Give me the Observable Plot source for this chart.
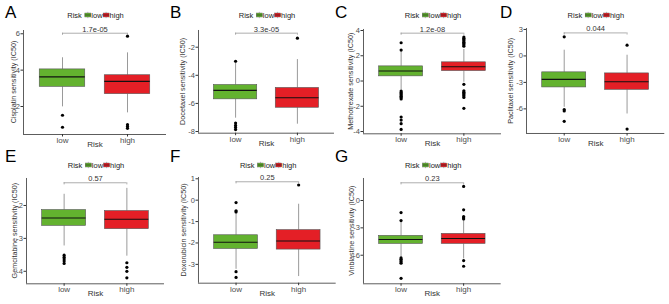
<!DOCTYPE html>
<html><head><meta charset="utf-8">
<script src="https://cdn.jsdelivr.net/npm/d3@7"></script>
<script src="https://cdn.jsdelivr.net/npm/@observablehq/plot@0.6"></script>
<style>
body{margin:0;background:#fff;}
#fig{position:relative;width:669px;height:304px;overflow:hidden;font-family:"Liberation Sans",Arial,sans-serif;background:#fff;}
#fig svg{position:absolute;overflow:visible;}
</style></head><body><div id="fig"></div>
<script>
const drugs = ["Cisplatin","Docetaxel","Methotrexate","Paclitaxel","Gemcitabine","Doxorubicin","Vinblastine"];
const panelLetters = ["A","B","C","D","E","F","G"];
const pValues = ["1.7e-05","3.3e-05","1.2e-08","0.044","0.57","0.25","0.23"];
const riskGroups = ["low","high"];
const groupColors = ["#63b22f","#e41f26"];
// [lower whisker, Q1, median, Q3, upper whisker]
const lowBox = [
  [1.98, 3.08, 3.63, 4.04, 4.68],
  [-7.05, -5.71, -5.07, -4.69, -3.1],
  [-0.72, 0.37, 0.79, 1.16, 2.3],
  [-5.82, -3.57, -2.66, -1.86, 0.65],
  [-3.23, -2.62, -2.38, -2.14, -1.66],
  [-3.23, -2.28, -1.97, -1.64, -0.58],
  [-6.22, -4.76, -4.28, -3.88, -2.38]
];
const highBox = [
  [1.65, 2.68, 3.38, 3.72, 4.95],
  [-7.48, -6.31, -5.6, -4.9, -2.88],
  [-0.1, 0.79, 1.13, 1.48, 2.5],
  [-6.58, -3.84, -2.93, -1.98, 0.08],
  [-3.54, -2.72, -2.42, -2.17, -1.48],
  [-3.57, -2.31, -1.91, -1.4, -0.19],
  [-6.4, -4.76, -4.17, -3.66, -2.1]
];
const lowOutliers = [
  [1.52, 0.86],
  [-3.0, -7.4, -7.57, -7.71, -7.86],
  [3.03, 2.45, -0.8, -0.9, -1.0, -1.1, -1.2, -1.3, -1.42, -2.85, -3.09, -3.38, -3.83],
  [2.17, -6.08, -6.24, -7.41],
  [-3.51, -3.57, -3.63, -3.69, -3.76],
  [-0.11, -0.5, -0.55, -3.34, -3.61],
  [-1.32, -2.2, -6.3, -6.45, -6.6, -6.75, -6.88, -8.53]
];
const highOutliers = [
  [5.87, 1.0, 0.9, 0.8],
  [-1.36],
  [3.48, 3.38, 3.28, 3.18, 3.08, 2.98, 2.88, 2.76, -0.26, -0.78, -0.88, -0.98, -1.08, -1.18, -1.3, -2.16],
  [1.22, -8.29],
  [-3.74, -3.88, -4.0, -4.2],
  [0.71],
  [1.54, -1.02, -1.76, -1.9, -2.02, -6.59, -7.21]
];
const yTicks = [[2,4,6],[-8,-6,-4,-2],[-4,-2,0,2,4],[-6,-3,0,3],[-4,-3,-2],[-3,-2,-1,0,1],[-6,-3,0]];
const bracketY = [6.03, -1.0, 3.79, 2.61, -1.31, 0.86, 1.94];

// layout (pixel frames of each panel and y domains)
const layout = [
  {x0:23,    x1:166, top:30,   bottom:134,   yDomain:[0.46, 6.18],  titleOffset:10},
  {x0:198,   x1:334, top:30,   bottom:132.7, yDomain:[-8.12, -0.81], titleOffset:16},
  {x0:363,   x1:501, top:29,   bottom:133.3, yDomain:[-4.18, 4.08], titleOffset:13},
  {x0:525.7, x1:664, top:28.3, bottom:133.3, yDomain:[-8.79, 3.11], titleOffset:15.5},
  {x0:26,    x1:164, top:178,  bottom:283.3, yDomain:[-4.38, -1.18], titleOffset:11.5},
  {x0:198.3, x1:336, top:177,  bottom:282.7, yDomain:[-3.88, 1.06], titleOffset:15},
  {x0:363.3, x1:501, top:178,  bottom:283.3, yDomain:[-9.13, 2.41], titleOffset:12}
];

const fig = document.getElementById("fig");
const FONT = '"Liberation Sans", Arial, sans-serif';
const bw = 0.7;
const axisColor = "#333";
const labelColor = "#4d4d4d";

drugs.forEach((drug, i) => {
  const L = layout[i];
  const mL = 40, mR = 6, mT = 30, mB = 22;
  const width = L.x1 - L.x0 + mL + mR;
  const height = L.bottom - L.top + mT + mB;
  const boxes = riskGroups.map((g, j) => {
    const s = (j ? highBox : lowBox)[i];
    return {group: g, pos: j + 1, color: groupColors[j], wLo: s[0], q1: s[1], med: s[2], q3: s[3], wHi: s[4]};
  });
  const outliers = riskGroups.flatMap((g, j) => (j ? highOutliers : lowOutliers)[i].map(v => ({pos: j + 1, v})));
  const tip = (L.yDomain[1] - L.yDomain[0]) * 0.02;
  const plot = Plot.plot({
    width, height,
    marginLeft: mL, marginRight: mR, marginTop: mT, marginBottom: mB,
    style: {fontFamily: FONT, fontSize: "7.5px", background: "transparent", overflow: "visible", color: axisColor},
    x: {domain: [0.4, 2.6]},
    y: {domain: L.yDomain},
    marks: [
      Plot.axisX({ticks: [1, 2], tickFormat: d => riskGroups[d - 1], tickSize: 2.5, tickPadding: 0.5, fontSize: 8, fill: labelColor, stroke: axisColor, label: null}),
      Plot.axisY({ticks: yTicks[i], tickFormat: d => String(d), tickSize: 2.5, tickPadding: 1, fontSize: 7.5, fill: labelColor, stroke: axisColor, label: null}),
      Plot.ruleX([0.4], {stroke: axisColor, strokeWidth: 0.8}),
      Plot.ruleY([L.yDomain[0]], {stroke: axisColor, strokeWidth: 0.8}),
      Plot.ruleX(boxes, {x: "pos", y1: "wLo", y2: "q1", stroke: "#9a9a9a", strokeWidth: 1}),
      Plot.ruleX(boxes, {x: "pos", y1: "q3", y2: "wHi", stroke: "#9a9a9a", strokeWidth: 1}),
      Plot.rect(boxes, {x1: d => d.pos - bw / 2, x2: d => d.pos + bw / 2, y1: "q1", y2: "q3", fill: "color", stroke: "#555", strokeWidth: 0.6}),
      Plot.ruleY(boxes, {x1: d => d.pos - bw / 2, x2: d => d.pos + bw / 2, y: "med", stroke: "#111", strokeWidth: 1.1}),
      Plot.dot(outliers, {x: "pos", y: "v", r: 1.6, fill: "#000", stroke: null}),
      Plot.ruleY([bracketY[i]], {x1: 1, x2: 2, stroke: "#999", strokeWidth: 0.8}),
      Plot.ruleX([1, 2], {x: d => d, y1: bracketY[i], y2: bracketY[i] - tip, stroke: "#999", strokeWidth: 0.8}),
      Plot.text([pValues[i]], {x: () => 1.5, y: () => bracketY[i], text: d => d, lineAnchor: "bottom", dy: -1.5, fontSize: 7.5, fill: "#333"}),
      Plot.text(["Risk"], {frameAnchor: "bottom", textAnchor: "middle", lineAnchor: "top", dy: 7, fontSize: 8, fill: "#333"})
    ]
  });
  plot.style.left = (L.x0 - mL) + "px";
  plot.style.top = (L.top - mT) + "px";
  fig.appendChild(plot);
});

// overlay: panel letters, y-axis titles and legends
const overlay = d3.select(fig).append("svg")
  .attr("width", 669).attr("height", 304)
  .style("left", "0px").style("top", "0px")
  .style("font-family", FONT);

drugs.forEach((drug, i) => {
  const L = layout[i];
  const row = i < 4 ? 0 : 1;
  const letterX = [5, 170, 335, 500, 5, 170, 335][i];
  overlay.append("text").attr("x", letterX).attr("y", row ? 162 : 18.3)
    .attr("font-size", 17).attr("fill", "#000").text(panelLetters[i]);
  // y-axis title
  const tx = L.x0 - L.titleOffset, ty = (L.top + L.bottom) / 2;
  overlay.append("text")
    .attr("transform", `translate(${tx},${ty}) rotate(-90)`)
    .attr("text-anchor", "middle").attr("dy", "0.35em")
    .attr("font-size", 7.2).attr("fill", "#333")
    .text(drug + " sensitivity (IC50)");
  // legend
  const g = overlay.append("g");
  const cy = row ? 165 : 15;
  let x = 0;
  const addText = (t) => {
    const el = g.append("text").attr("x", x).attr("y", cy).attr("dy", "0.35em")
      .attr("font-size", 7.5).attr("fill", "#222").text(t);
    x += el.node().getComputedTextLength();
  };
  const addKey = (c) => {
    g.append("line").attr("x1", x + 3).attr("x2", x + 3).attr("y1", cy - 3.2).attr("y2", cy + 3.2).attr("stroke", "#999").attr("stroke-width", 0.6);
    g.append("rect").attr("x", x).attr("y", cy - 2).attr("width", 6).attr("height", 4)
      .attr("fill", c).attr("stroke", "#555").attr("stroke-width", 0.4);
    g.append("line").attr("x1", x).attr("x2", x + 6).attr("y1", cy).attr("y2", cy).attr("stroke", "#111").attr("stroke-width", 0.6);
    x += 6.5;
  };
  addText("Risk"); x += 3;
  addKey(groupColors[0]); addText(riskGroups[0]); x += 0.5;
  addKey(groupColors[1]); addText(riskGroups[1]);
  const center = (L.x0 + L.x1) / 2 + 1;
  g.attr("transform", `translate(${center - x / 2},0)`);
});
</script></body></html>
